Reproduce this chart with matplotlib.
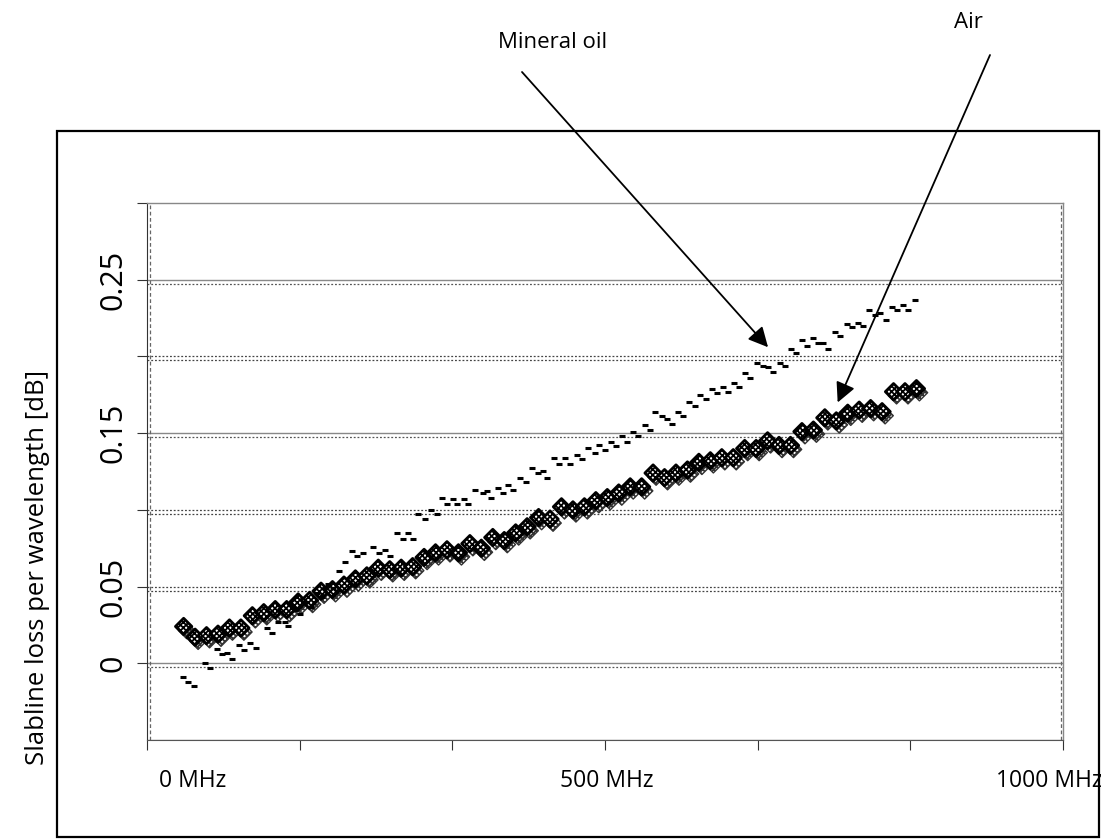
import matplotlib
matplotlib.use('Agg')
import matplotlib.pyplot as plt
import matplotlib.transforms as mtransforms
from matplotlib.patches import Rectangle
from matplotlib.ticker import FixedLocator, MultipleLocator

plt.rcParams['font.family'] = ['Open Sans', 'DejaVu Sans']
plt.rcParams['hatch.linewidth'] = 1.3

# Air: frequency [MHz] and loss per wavelength [dB]
air_freq = [40, 52.5, 65, 77.5, 90, 102.5, 115, 127.5, 140, 152.5,
            165, 177.5, 190, 202.5, 215, 227.5, 240, 252.5, 265, 277.5,
            290, 302.5, 315, 327.5, 340, 352.5, 365, 377.5, 390, 402.5,
            415, 427.5, 440, 452.5, 465, 477.5, 490, 502.5, 515, 527.5,
            540, 552.5, 565, 577.5, 590, 602.5, 615, 627.5, 640, 652.5,
            665, 677.5, 690, 702.5, 715, 727.5, 740, 752.5, 765, 777.5,
            790, 802.5, 815, 827.5, 840]
air_loss = [0.024, 0.017, 0.018, 0.019, 0.023, 0.023, 0.031, 0.033, 0.035, 0.035,
            0.040, 0.041, 0.047, 0.048, 0.051, 0.055, 0.057, 0.062, 0.061, 0.062,
            0.063, 0.069, 0.072, 0.074, 0.072, 0.078, 0.075, 0.082, 0.080, 0.085,
            0.089, 0.095, 0.094, 0.102, 0.100, 0.102, 0.106, 0.108, 0.111, 0.115,
            0.115, 0.124, 0.121, 0.124, 0.126, 0.131, 0.132, 0.134, 0.134, 0.140,
            0.140, 0.145, 0.142, 0.142, 0.151, 0.152, 0.160, 0.158, 0.163, 0.165,
            0.166, 0.164, 0.177, 0.177, 0.179]

# Mineral oil
oil_freq = [39, 45, 51, 63, 69, 76, 82, 87, 93, 100,
            106, 112, 119, 131, 137, 143, 151, 154, 162, 167,
            174, 179, 186, 191, 198, 203, 210, 216, 224, 229,
            236, 247, 253, 260, 265, 273, 280, 285, 290, 296,
            304, 310, 317, 322, 328, 334, 338, 346, 350, 358,
            367, 371, 376, 383, 389, 394, 400, 407, 414, 420,
            427, 432, 437, 444, 450, 456, 462, 469, 475, 481,
            489, 493, 500, 507, 512, 519, 524, 531, 536, 544,
            549, 555, 562, 568, 573, 580, 585, 592, 598, 604,
            610, 617, 622, 629, 634, 641, 646, 653, 658, 666,
            673, 678, 683, 691, 697, 703, 709, 715, 721, 727,
            733, 738, 743, 751, 757, 764, 770, 776, 782, 788,
            795, 800, 807, 813, 819, 825, 831, 838]
oil_loss = [-0.009, -0.012, -0.015, 0.000, -0.003, 0.009, 0.006, 0.0065, 0.003, 0.012,
            0.0085, 0.013, 0.010, 0.023, 0.020, 0.027, 0.027, 0.024, 0.035, 0.032,
            0.040, 0.037, 0.046, 0.043, 0.052, 0.049, 0.060, 0.066, 0.073, 0.070,
            0.072, 0.076, 0.072, 0.074, 0.070, 0.085, 0.081, 0.085, 0.081, 0.097,
            0.094, 0.100, 0.097, 0.108, 0.104, 0.107, 0.104, 0.107, 0.104, 0.113,
            0.111, 0.112, 0.108, 0.114, 0.111, 0.116, 0.113, 0.121, 0.118, 0.127,
            0.124, 0.125, 0.121, 0.134, 0.130, 0.134, 0.130, 0.136, 0.133, 0.140,
            0.137, 0.142, 0.139, 0.144, 0.1415, 0.148, 0.144, 0.151, 0.148, 0.155,
            0.152, 0.164, 0.161, 0.159, 0.156, 0.164, 0.161, 0.170, 0.168, 0.175,
            0.172, 0.179, 0.176, 0.180, 0.177, 0.183, 0.180, 0.189, 0.186, 0.196,
            0.194, 0.193, 0.190, 0.196, 0.194, 0.205, 0.202, 0.211, 0.207, 0.212,
            0.209, 0.209, 0.205, 0.216, 0.213, 0.221, 0.219, 0.222, 0.220, 0.230,
            0.227, 0.228, 0.224, 0.232, 0.230, 0.2335, 0.230, 0.237]

ytick_vals = [0, 0.05, 0.15, 0.25]
ytick_text = ['0', '0.05', '0.15', '0.25']
xlabels = ['0 MHz', '500 MHz', '1000 MHz']
solid_grid = [0.25, 0.15, 0.0, -0.05]
dotted_grid = [0.2, 0.1, 0.05]

W, H = 1101, 839
fig = plt.figure(figsize=(W / 100, H / 100), dpi=100)
ax = fig.add_axes([147 / W, 99 / H, 916 / W, 537 / H])

# outer frame of the chart
fig.patches.append(Rectangle((57 / W, 0.002), 1042 / W, (H - 133) / H,
                             transform=fig.transFigure, fill=False,
                             edgecolor='black', linewidth=1.6))

# gridlines: each drawn twice, the second copy a few pixels lower (overlaid charts)
ytrans = ax.get_yaxis_transform()
shift = mtransforms.ScaledTranslation(0, -4 / 100, fig.dpi_scale_trans)
dots = (0, (1.5, 1.5))
for v in solid_grid:
    ax.plot([0, 1], [v, v], color='#888888', linewidth=1.0, zorder=1, transform=ytrans)
    ax.plot([0, 1], [v, v], color='#555555', linewidth=0.9, linestyle=dots,
            zorder=1, transform=ytrans + shift)
for v in dotted_grid:
    ax.plot([0, 1], [v, v], color='#444444', linewidth=0.9, linestyle=dots,
            zorder=1, transform=ytrans)
    ax.plot([0, 1], [v, v], color='#444444', linewidth=0.9, linestyle=dots,
            zorder=1, transform=ytrans + shift)

# inner dashed frame
ax.axvline(3, color='#666666', linewidth=0.9, linestyle=(0, (3, 2)), zorder=1)
ax.axvline(998, color='#666666', linewidth=0.9, linestyle=(0, (3, 2)), zorder=1)

# data
dshift = mtransforms.ScaledTranslation(3 / 100, -4 / 100, fig.dpi_scale_trans)
ax.scatter(air_freq, air_loss, marker='D', s=70, facecolor='white',
           edgecolor='#333333', hatch='xxxxxx', linewidths=1.0, zorder=3,
           transform=ax.transData + dshift)
ax.scatter(air_freq, air_loss, marker='D', s=70, facecolor='white',
           edgecolor='black', hatch='xxxxxx', linewidths=2.0, zorder=4)
ax.plot(oil_freq, oil_loss, linestyle='none', marker='_', markersize=4.5,
        markeredgewidth=2.2, color='black', zorder=5)

ax.set_xlim(0, 1000)
ax.set_ylim(-0.05, 0.30)
ax.xaxis.set_major_locator(MultipleLocator(1000 / 6))
ax.set_xticklabels([])
ax.yaxis.set_major_locator(FixedLocator(ytick_vals))
ax.set_yticklabels(ytick_text, rotation=90, va='center', fontsize=22)
ax.yaxis.set_minor_locator(FixedLocator([0.1, 0.2, 0.3]))
ax.tick_params(axis='both', which='both', direction='out', length=7, width=0.8,
               color='#333333')
ax.tick_params(axis='y', which='major', pad=6)
for s in ['top', 'right']:
    ax.spines[s].set_color('#888888')
    ax.spines[s].set_linewidth(1.0)
ax.spines['left'].set_color('#333333')
ax.spines['bottom'].set_color('#555555')

ax.set_ylabel('Slabline loss per wavelength [dB]', fontsize=18.5)
ax.yaxis.set_label_coords(-0.106, 0.322)

for lab, xp in zip(xlabels, [193, 607, 1049]):
    fig.text(xp / W, 1 - 781 / H, lab, ha='center', va='center', fontsize=16.5)

# annotations
fig.text(553 / W, 1 - 42 / H, 'Mineral oil', ha='center', va='center', fontsize=16)
fig.text(968 / W, 1 - 22 / H, 'Air', ha='center', va='center', fontsize=16)
arrow = dict(arrowstyle='-|>', color='black', lw=1.3, mutation_scale=30,
             shrinkA=0, shrinkB=0)
ax.annotate('', xy=(678, 0.206), xycoords='data',
            xytext=(522 / W, 1 - 72 / H), textcoords='figure fraction',
            arrowprops=arrow)
ax.annotate('', xy=(754, 0.170), xycoords='data',
            xytext=(990 / W, 1 - 55 / H), textcoords='figure fraction',
            arrowprops=arrow)

fig.savefig('out.png', dpi=100)
